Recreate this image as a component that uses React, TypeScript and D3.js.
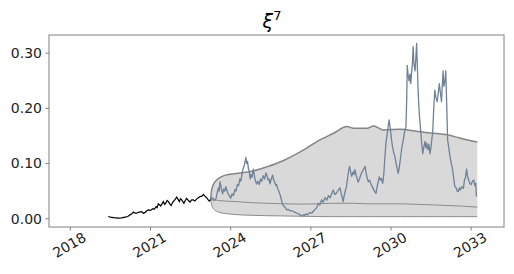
import React from 'react';
import * as d3 from 'd3';

// observed history (black)
const histYears = [2019.42, 2019.5, 2019.61, 2019.7, 2019.8, 2019.92, 2020.05, 2020.15, 2020.23, 2020.3, 2020.36, 2020.42, 2020.48, 2020.57, 2020.67, 2020.73, 2020.79, 2020.85, 2020.92, 2021.0, 2021.08, 2021.14, 2021.21, 2021.25, 2021.29, 2021.34, 2021.38, 2021.43, 2021.48, 2021.53, 2021.57, 2021.62, 2021.67, 2021.72, 2021.77, 2021.81, 2021.85, 2021.92, 2021.98, 2022.03, 2022.08, 2022.12, 2022.17, 2022.21, 2022.25, 2022.3, 2022.35, 2022.42, 2022.48, 2022.54, 2022.6, 2022.66, 2022.73, 2022.79, 2022.85, 2022.92, 2022.98, 2023.03, 2023.08, 2023.12, 2023.16, 2023.2, 2023.25];
const histValues = [0.004, 0.003, 0.002, 0.0015, 0.001, 0.0015, 0.003, 0.004, 0.007, 0.009, 0.012, 0.01, 0.01, 0.012, 0.013, 0.01, 0.011, 0.014, 0.016, 0.015, 0.018, 0.017, 0.022, 0.02, 0.027, 0.025, 0.023, 0.027, 0.031, 0.026, 0.028, 0.033, 0.031, 0.027, 0.024, 0.028, 0.031, 0.035, 0.039, 0.035, 0.031, 0.036, 0.034, 0.031, 0.028, 0.033, 0.037, 0.033, 0.03, 0.034, 0.034, 0.032, 0.036, 0.038, 0.04, 0.041, 0.044, 0.041, 0.039, 0.037, 0.034, 0.032, 0.035];

// one simulated path (slate)
const pathYears = [2023.25, 2023.32, 2023.38, 2023.45, 2023.5, 2023.54, 2023.57, 2023.6, 2023.64, 2023.67, 2023.7, 2023.74, 2023.78, 2023.82, 2023.85, 2023.9, 2023.95, 2024.0, 2024.05, 2024.1, 2024.16, 2024.2, 2024.25, 2024.3, 2024.34, 2024.38, 2024.42, 2024.45, 2024.5, 2024.54, 2024.57, 2024.6, 2024.63, 2024.66, 2024.7, 2024.73, 2024.76, 2024.8, 2024.85, 2024.88, 2024.92, 2024.97, 2025.02, 2025.07, 2025.12, 2025.16, 2025.22, 2025.27, 2025.32, 2025.36, 2025.4, 2025.44, 2025.47, 2025.52, 2025.57, 2025.61, 2025.65, 2025.69, 2025.72, 2025.76, 2025.8, 2025.84, 2025.88, 2025.92, 2025.95, 2026.0, 2026.05, 2026.1, 2026.16, 2026.22, 2026.28, 2026.34, 2026.4, 2026.47, 2026.53, 2026.6, 2026.66, 2026.72, 2026.77, 2026.82, 2026.88, 2026.95, 2027.03, 2027.1, 2027.16, 2027.22, 2027.28, 2027.33, 2027.4, 2027.46, 2027.53, 2027.6, 2027.66, 2027.72, 2027.78, 2027.84, 2027.9, 2027.97, 2028.03, 2028.09, 2028.14, 2028.18, 2028.21, 2028.26, 2028.3, 2028.34, 2028.38, 2028.42, 2028.45, 2028.49, 2028.53, 2028.58, 2028.62, 2028.65, 2028.7, 2028.74, 2028.77, 2028.82, 2028.86, 2028.9, 2028.95, 2029.0, 2029.03, 2029.07, 2029.11, 2029.15, 2029.2, 2029.24, 2029.28, 2029.33, 2029.38, 2029.44, 2029.48, 2029.52, 2029.56, 2029.6, 2029.64, 2029.69, 2029.73, 2029.77, 2029.81, 2029.85, 2029.89, 2029.93, 2029.97, 2030.02, 2030.06, 2030.1, 2030.15, 2030.19, 2030.23, 2030.27, 2030.3, 2030.33, 2030.37, 2030.41, 2030.46, 2030.5, 2030.53, 2030.56, 2030.59, 2030.61, 2030.64, 2030.68, 2030.71, 2030.74, 2030.77, 2030.8, 2030.83, 2030.86, 2030.9, 2030.93, 2030.96, 2030.99, 2031.02, 2031.06, 2031.11, 2031.15, 2031.19, 2031.23, 2031.27, 2031.31, 2031.34, 2031.38, 2031.42, 2031.46, 2031.5, 2031.53, 2031.56, 2031.6, 2031.64, 2031.68, 2031.73, 2031.77, 2031.81, 2031.85, 2031.89, 2031.92, 2031.95, 2031.98, 2032.02, 2032.05, 2032.09, 2032.12, 2032.16, 2032.21, 2032.26, 2032.31, 2032.35, 2032.39, 2032.44, 2032.48, 2032.52, 2032.56, 2032.6, 2032.65, 2032.71, 2032.75, 2032.79, 2032.83, 2032.87, 2032.91, 2032.95, 2033.0, 2033.05, 2033.1, 2033.14, 2033.17, 2033.2];
const pathValues = [0.035, 0.038, 0.033, 0.036, 0.048, 0.056, 0.05, 0.067, 0.058, 0.05, 0.045, 0.054, 0.05, 0.058, 0.053, 0.045, 0.042, 0.037, 0.045, 0.042, 0.053, 0.05, 0.062, 0.06, 0.072, 0.068, 0.08, 0.088, 0.095, 0.104, 0.111, 0.1, 0.104, 0.092, 0.085, 0.072, 0.08, 0.075, 0.09, 0.08, 0.07, 0.063, 0.068, 0.062, 0.072, 0.068, 0.078, 0.072, 0.083, 0.078, 0.07, 0.072, 0.063, 0.072, 0.079, 0.07, 0.066, 0.06, 0.062, 0.055, 0.05, 0.045, 0.038, 0.03, 0.026, 0.022, 0.02, 0.016, 0.017, 0.014, 0.015, 0.013, 0.012, 0.01, 0.009, 0.007, 0.005, 0.007, 0.006, 0.009, 0.007, 0.011, 0.01, 0.014, 0.017, 0.02, 0.028, 0.025, 0.034, 0.03, 0.038, 0.034, 0.042, 0.038, 0.045, 0.052, 0.044, 0.047, 0.052, 0.056, 0.045, 0.038, 0.031, 0.045, 0.052, 0.06, 0.075, 0.088, 0.095, 0.085, 0.077, 0.085, 0.08, 0.089, 0.078, 0.072, 0.066, 0.072, 0.078, 0.083, 0.088, 0.092, 0.095, 0.082, 0.074, 0.067, 0.07, 0.064, 0.06, 0.055, 0.05, 0.046, 0.058, 0.066, 0.076, 0.07, 0.073, 0.064, 0.08, 0.11, 0.137, 0.15, 0.165, 0.179, 0.165, 0.143, 0.13, 0.12, 0.112, 0.1, 0.092, 0.082, 0.09, 0.1, 0.115, 0.13, 0.143, 0.155, 0.162, 0.166, 0.22, 0.278, 0.26, 0.25, 0.262, 0.245, 0.263, 0.28, 0.312, 0.28, 0.268, 0.29, 0.318, 0.27, 0.227, 0.19, 0.161, 0.135, 0.118, 0.13, 0.14, 0.128, 0.137, 0.125, 0.135, 0.118, 0.13, 0.145, 0.155, 0.2, 0.233, 0.22, 0.212, 0.228, 0.245, 0.228, 0.212, 0.24, 0.268, 0.24, 0.25, 0.268, 0.2, 0.143, 0.13, 0.112, 0.1, 0.088, 0.072, 0.058, 0.056, 0.05, 0.049, 0.056, 0.052, 0.058, 0.055, 0.07, 0.075, 0.09, 0.075, 0.07, 0.064, 0.062, 0.068, 0.07, 0.06, 0.064, 0.04];

// forecast band
const bandYears = [2023.25, 2023.27, 2023.32, 2023.4, 2023.55, 2023.8, 2024.2, 2024.8, 2025.35, 2026.0, 2026.6, 2027.2, 2027.85, 2028.35, 2028.6, 2029.1, 2029.35, 2029.7, 2030.35, 2031.0, 2031.6, 2032.1, 2032.6, 2033.23];
const bandUpper = [0.035, 0.046, 0.058, 0.066, 0.073, 0.079, 0.082, 0.086, 0.094, 0.106, 0.121, 0.139, 0.155, 0.167, 0.164, 0.164, 0.168, 0.161, 0.162, 0.158, 0.155, 0.152, 0.146, 0.139];
const bandLower = [0.035, 0.029, 0.021, 0.016, 0.012, 0.0095, 0.0075, 0.0062, 0.0055, 0.005, 0.0045, 0.004, 0.0037, 0.0037, 0.0037, 0.0037, 0.0037, 0.0037, 0.0037, 0.0037, 0.0037, 0.0037, 0.0037, 0.0037];
const bandMedian = [0.035, 0.034, 0.034, 0.034, 0.033, 0.032, 0.031, 0.029, 0.028, 0.027, 0.0265, 0.027, 0.028, 0.028, 0.028, 0.027, 0.027, 0.027, 0.027, 0.026, 0.025, 0.024, 0.023, 0.021];

const xTicks = [2018, 2021, 2024, 2027, 2030, 2033];
const yTicks = [0, 0.1, 0.2, 0.3];

const W = 514;
const H = 274;
const margin = { left: 49, right: 10, top: 35, bottom: 47 };
const font = 'DejaVu Sans, sans-serif';

export default function App() {
  const x = d3.scaleLinear().domain([2017.2, 2034.23]).range([margin.left, W - margin.right]);
  const y = d3.scaleLinear().domain([-0.015, 0.333]).range([H - margin.bottom, margin.top]);

  const band = d3.area<number>()
    .x((_, i) => x(bandYears[i]))
    .y0((_, i) => y(bandLower[i]))
    .y1((_, i) => y(bandUpper[i]))
    .curve(d3.curveMonotoneX);

  const bandLine = (vals: number[]) => d3.line<number>()
    .x((_, i) => x(bandYears[i]))
    .y((d) => y(d))
    .curve(d3.curveMonotoneX)(vals) as string;

  const histLine = d3.line<number>()
    .x((_, i) => x(histYears[i]))
    .y((d) => y(d))(histValues) as string;

  const simLine = d3.line<number>()
    .x((_, i) => x(pathYears[i]))
    .y((d) => y(d))(pathValues) as string;

  const [x0, x1] = x.range();
  const [y0, y1] = y.range();

  return (
    <svg width={W} height={H} style={{ position: 'absolute', left: 0, top: 0, background: '#fff' }}>
      <text x={272} y={28} textAnchor="middle" fontFamily={font} fontSize={19}>
        <tspan fontStyle="italic">ξ</tspan>
        <tspan fontSize={13} dy={-8}>7</tspan>
      </text>

      <path d={band(bandUpper) as string} fill="#d9d9d9" />
      <path d={bandLine(bandUpper)} fill="none" stroke="#858585" strokeWidth={1.5} />
      <path d={bandLine(bandLower)} fill="none" stroke="#8c8c8c" strokeWidth={1} />
      <path d={bandLine(bandMedian)} fill="none" stroke="#8c8c8c" strokeWidth={1} />
      <path d={histLine} fill="none" stroke="#000" strokeWidth={1.2} />
      <path d={simLine} fill="none" stroke="#6f8299" strokeWidth={1.3} strokeLinejoin="round" />

      <rect x={x0} y={y1} width={x1 - x0} height={y0 - y1} fill="none" stroke="#808080" strokeWidth={1} />

      {yTicks.map((t) => (
        <g key={t}>
          <line x1={x0} x2={x0 - 3.5} y1={y(t)} y2={y(t)} stroke="#808080" />
          <text x={x0 - 7} y={y(t)} dy="0.35em" textAnchor="end" fontFamily={font} fontSize={14} fill="#222">
            {t.toFixed(2)}
          </text>
        </g>
      ))}
      {xTicks.map((t) => (
        <g key={t}>
          <line x1={x(t)} x2={x(t)} y1={y0} y2={y0 + 3.5} stroke="#808080" />
          <text
            transform={`translate(${x(t) - 1},${y0 + 18}) rotate(-30)`}
            textAnchor="middle"
            dy="0.35em"
            fontFamily={font}
            fontSize={14}
            fill="#222"
          >
            {t}
          </text>
        </g>
      ))}
    </svg>
  );
}
